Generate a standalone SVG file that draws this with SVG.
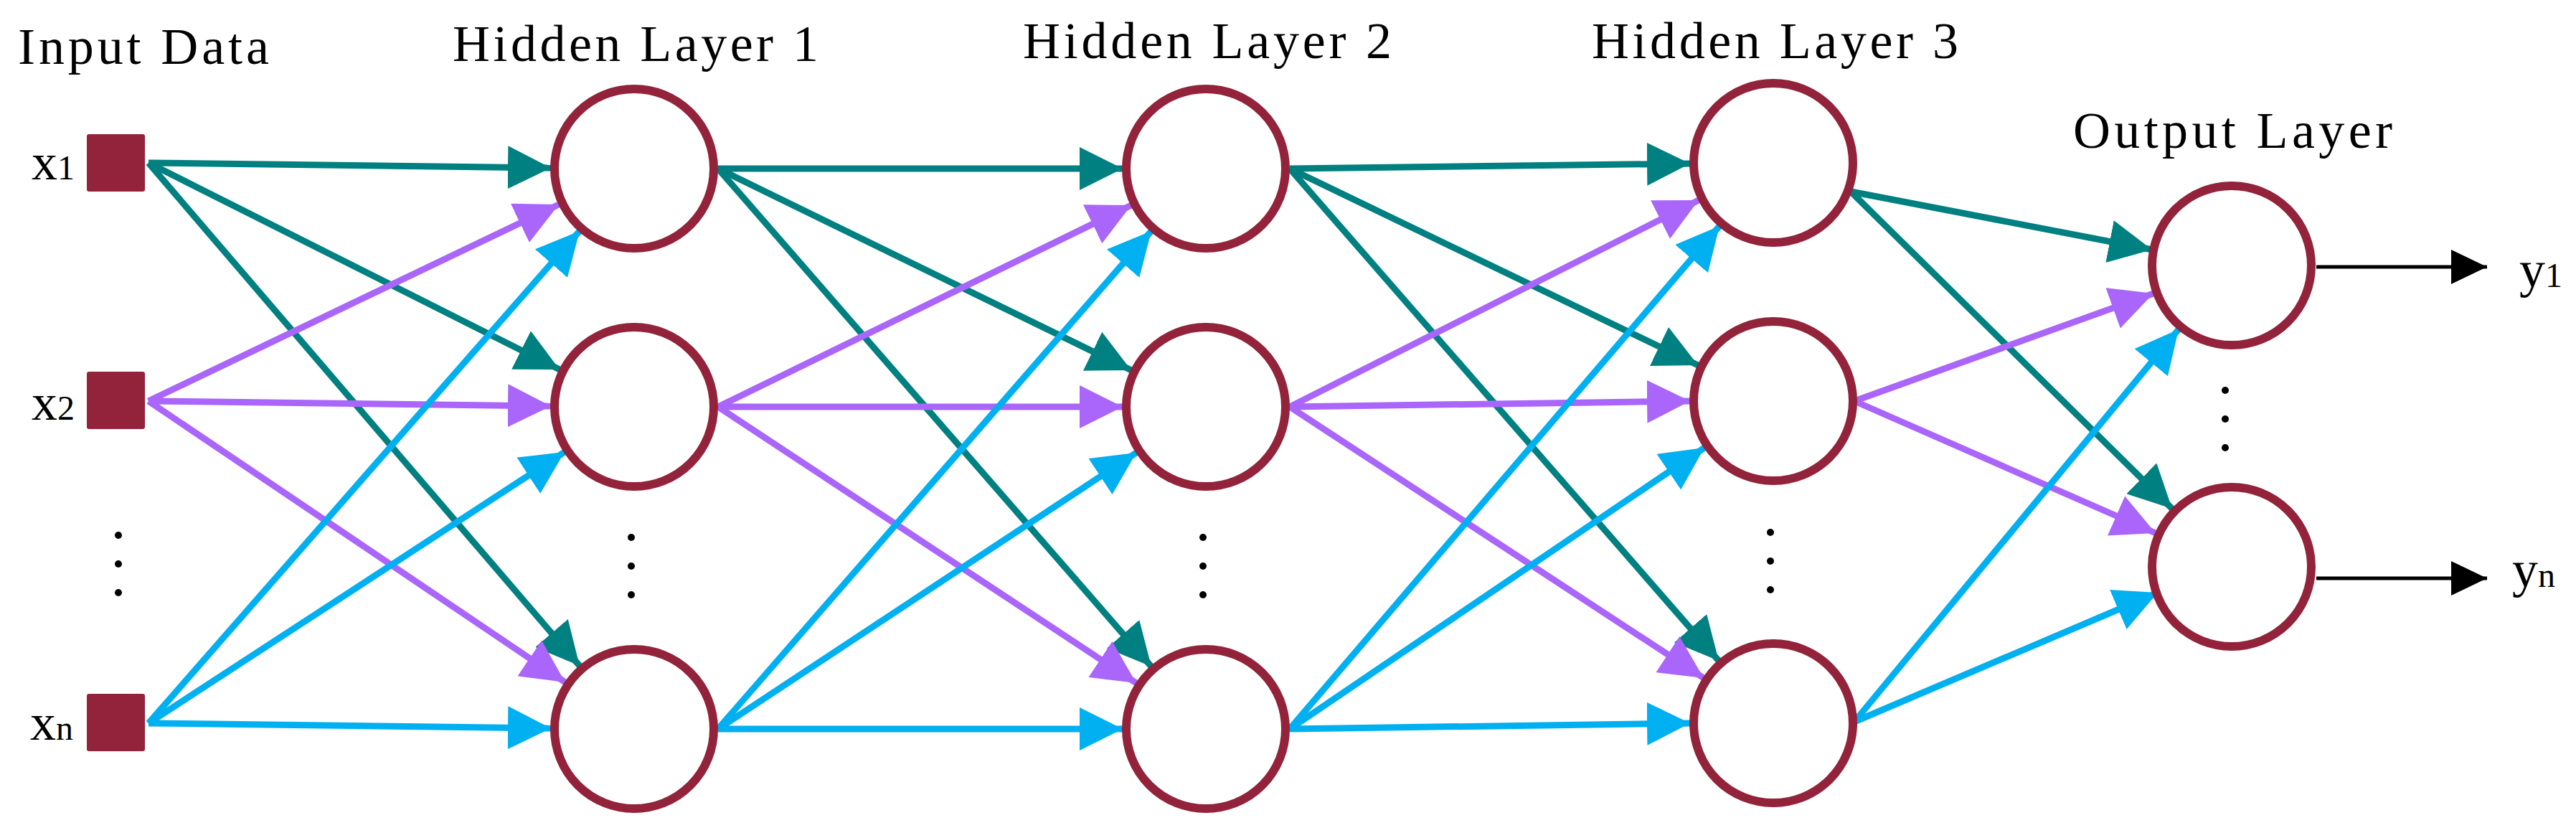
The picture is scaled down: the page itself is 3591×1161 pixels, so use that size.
<svg xmlns="http://www.w3.org/2000/svg" width="3591" height="1161" viewBox="0 0 3591 1161">
<style>
.t{font-family:"Liberation Serif","DejaVu Serif",serif;font-size:72px;fill:#000}
.s{font-size:48px}
.n{fill:none;stroke:#92233A;stroke-width:12}
.sq{fill:#92233A}
.e{stroke-width:9;fill:none}
.a{stroke:#008080;marker-end:url(#ma)}
.b{stroke:#AA66FA;marker-end:url(#mb)}
.c{stroke:#00B0F0;marker-end:url(#mc)}
.k{stroke:#000;stroke-width:5;marker-end:url(#mk)}
</style>
<defs>
<marker id="ma" markerUnits="userSpaceOnUse" markerWidth="60" markerHeight="60" refX="60" refY="30" orient="auto"><path d="M0,0L60,30L0,60z" fill="#008080"/></marker>
<marker id="mb" markerUnits="userSpaceOnUse" markerWidth="60" markerHeight="60" refX="60" refY="30" orient="auto"><path d="M0,0L60,30L0,60z" fill="#AA66FA"/></marker>
<marker id="mc" markerUnits="userSpaceOnUse" markerWidth="60" markerHeight="60" refX="60" refY="30" orient="auto"><path d="M0,0L60,30L0,60z" fill="#00B0F0"/></marker>
<marker id="mk" markerUnits="userSpaceOnUse" markerWidth="50" markerHeight="48" refX="50" refY="24" orient="auto"><path d="M0,0L50,24L0,48z" fill="#000"/></marker>
</defs>
<rect width="3591" height="1161" fill="#fff"/>
<g id="titles">
<text class="t" x="25" y="89" textLength="350">Input Data</text>
<text class="t" x="631" y="85" textLength="510">Hidden Layer 1</text>
<text class="t" x="1426" y="81" textLength="514">Hidden Layer 2</text>
<text class="t" x="2219" y="81" textLength="511">Hidden Layer 3</text>
<text class="t" x="2890" y="206" textLength="445">Output Layer</text>
</g>
<g id="connectors">
<line class="e a" x1="207" y1="227" x2="768" y2="234"/>
<line class="e a" x1="207" y1="227" x2="780" y2="515"/>
<line class="e a" x1="207" y1="227" x2="808" y2="928"/>
<line class="e b" x1="207" y1="559" x2="779" y2="285"/>
<line class="e b" x1="207" y1="559" x2="768" y2="566"/>
<line class="e b" x1="207" y1="559" x2="788" y2="951"/>
<line class="e c" x1="207" y1="1008" x2="808" y2="322"/>
<line class="e c" x1="207" y1="1008" x2="787" y2="630"/>
<line class="e c" x1="207" y1="1008" x2="768" y2="1015"/>

<line class="e a" x1="1001" y1="235" x2="1565" y2="235"/>
<line class="e a" x1="1001" y1="235" x2="1577" y2="516"/>
<line class="e a" x1="1001" y1="235" x2="1605" y2="929"/>
<line class="e b" x1="1001" y1="567" x2="1577" y2="286"/>
<line class="e b" x1="1001" y1="567" x2="1565" y2="567"/>
<line class="e b" x1="1001" y1="567" x2="1584" y2="952"/>
<line class="e c" x1="1001" y1="1016" x2="1605" y2="322"/>
<line class="e c" x1="1001" y1="1016" x2="1584" y2="631"/>
<line class="e c" x1="1001" y1="1016" x2="1565" y2="1016"/>

<line class="e a" x1="1798" y1="235" x2="2356" y2="228"/>
<line class="e a" x1="1798" y1="235" x2="2367" y2="509"/>
<line class="e a" x1="1798" y1="235" x2="2396" y2="921"/>
<line class="e b" x1="1798" y1="567" x2="2368" y2="279"/>
<line class="e b" x1="1798" y1="567" x2="2356" y2="559"/>
<line class="e b" x1="1798" y1="567" x2="2375" y2="945"/>
<line class="e c" x1="1798" y1="1016" x2="2397" y2="315"/>
<line class="e c" x1="1798" y1="1016" x2="2376" y2="624"/>
<line class="e c" x1="1798" y1="1016" x2="2356" y2="1008"/>

<line class="e a" x1="2580" y1="267" x2="3000" y2="348"/>
<line class="e a" x1="2580" y1="267" x2="3028" y2="709"/>
<line class="e b" x1="2585" y1="559" x2="3002" y2="409"/>
<line class="e b" x1="2585" y1="559" x2="3005" y2="743"/>
<line class="e c" x1="2585" y1="1006" x2="3037" y2="459"/>
<line class="e c" x1="2585" y1="1006" x2="3008" y2="826"/>

<line class="k" x1="3229" y1="372" x2="3467" y2="372"/>
<line class="k" x1="3229" y1="806" x2="3467" y2="806"/>
</g>
<g id="input">
<rect class="sq" x="121" y="187" width="81" height="80" rx="3"/>
<rect class="sq" x="121" y="518" width="81" height="80" rx="3"/>
<rect class="sq" x="121" y="967" width="81" height="80" rx="3"/>
<text class="t" x="44" y="250">x<tspan class="s">1</tspan></text>
<text class="t" x="44" y="585">x<tspan class="s">2</tspan></text>
<text class="t" x="42" y="1031">x<tspan class="s">n</tspan></text>
<circle cx="165" cy="746" r="5"/><circle cx="165" cy="786" r="5"/><circle cx="165" cy="826" r="5"/>
</g>
<g id="hidden1">
<circle class="n" cx="884" cy="235" r="111"/>
<circle class="n" cx="884" cy="567" r="111"/>
<circle class="n" cx="884" cy="1016" r="111"/>
<circle cx="880" cy="749" r="5"/><circle cx="880" cy="789" r="5"/><circle cx="880" cy="829" r="5"/>
</g>
<g id="hidden2">
<circle class="n" cx="1681" cy="235" r="111"/>
<circle class="n" cx="1681" cy="567" r="111"/>
<circle class="n" cx="1681" cy="1016" r="111"/>
<circle cx="1677" cy="749" r="5"/><circle cx="1677" cy="789" r="5"/><circle cx="1677" cy="829" r="5"/>
</g>
<g id="hidden3">
<circle class="n" cx="2472" cy="227" r="111"/>
<circle class="n" cx="2472" cy="559" r="111"/>
<circle class="n" cx="2472" cy="1008" r="111"/>
<circle cx="2468" cy="742" r="5"/><circle cx="2468" cy="782" r="5"/><circle cx="2468" cy="822" r="5"/>
</g>
<g id="output">
<circle class="n" cx="3111" cy="370" r="111"/>
<circle class="n" cx="3111" cy="790" r="111"/>
<circle cx="3102" cy="544" r="5"/><circle cx="3102" cy="584" r="5"/><circle cx="3102" cy="624" r="5"/>
<text class="t" x="3512" y="400">y<tspan class="s">1</tspan></text>
<text class="t" x="3502" y="818">y<tspan class="s">n</tspan></text>
</g>
</svg>
